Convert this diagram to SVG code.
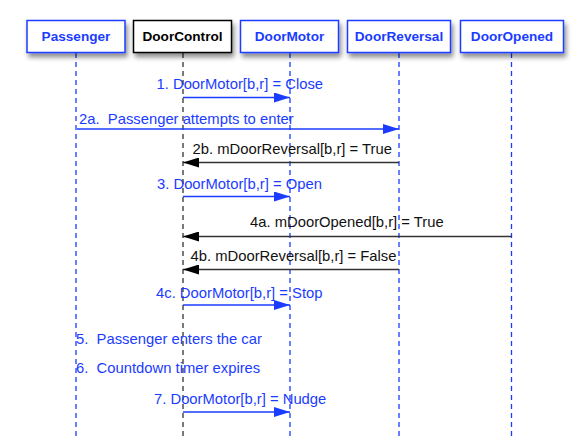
<svg xmlns="http://www.w3.org/2000/svg" width="588" height="448" viewBox="0 0 588 448">
<defs>
<filter id="sh" x="-20%" y="-30%" width="140%" height="180%">
<feDropShadow dx="2" dy="4" stdDeviation="2.5" flood-color="#000" flood-opacity="0.45"/>
</filter>
<marker id="ab" viewBox="0 0 16 10" refX="16" refY="5" markerWidth="16" markerHeight="10" markerUnits="userSpaceOnUse" orient="auto">
<path d="M0,0 L16,5 L0,10 Z" fill="#1a3cff"/>
</marker>
<marker id="ak" viewBox="0 0 16 10" refX="16" refY="5" markerWidth="16" markerHeight="10" markerUnits="userSpaceOnUse" orient="auto">
<path d="M0,0 L16,5 L0,10 Z" fill="#000"/>
</marker>
<style>
.box{fill:#fff;stroke:#1a3cff;stroke-width:1.5;filter:url(#sh)}
.boxk{fill:#fff;stroke:#000;stroke-width:1.5;filter:url(#sh)}
.hd{font-family:"Liberation Sans",Arial,sans-serif;font-weight:bold;font-size:13.6px;text-anchor:middle;fill:#1a3cff}
.hdk{font-family:"Liberation Sans",Arial,sans-serif;font-weight:bold;font-size:13.6px;text-anchor:middle;fill:#000}
.ll{stroke:#1a3cff;stroke-width:1.3;stroke-dasharray:5 4;fill:none}
.llk{stroke:#333;stroke-width:1.3;stroke-dasharray:5 4;fill:none}
.mb{stroke:#1a3cff;stroke-width:1.5;fill:none;marker-end:url(#ab)}
.mk{stroke:#333;stroke-width:1.5;fill:none;marker-end:url(#ak)}
.tb{font-family:"Liberation Sans",Arial,sans-serif;font-size:14.8px;fill:#1a3cff}
.tk{font-family:"Liberation Sans",Arial,sans-serif;font-size:14.8px;fill:#111}
</style>
</defs>
<rect width="588" height="448" fill="#fff"/>
<g id="lifelines">
<line class="ll" x1="76" y1="53" x2="76" y2="436"/>
<line class="llk" x1="183" y1="53" x2="183" y2="436"/>
<line class="ll" x1="290" y1="53" x2="290" y2="436"/>
<line class="ll" x1="399" y1="53" x2="399" y2="436"/>
<line class="ll" x1="511.5" y1="53" x2="511.5" y2="436"/>
</g>
<g id="Passenger"><rect class="box" x="27" y="20.5" width="98" height="32"/><text class="hd" x="76" y="41">Passenger</text></g>
<g id="DoorControl"><rect class="boxk" x="133.5" y="20.5" width="98" height="32"/><text class="hdk" x="182.5" y="41">DoorControl</text></g>
<g id="DoorMotor"><rect class="box" x="240.5" y="20.5" width="98" height="32"/><text class="hd" x="289.5" y="41">DoorMotor</text></g>
<g id="DoorReversal"><rect class="box" x="347.5" y="20.5" width="103" height="32"/><text class="hd" x="399" y="41">DoorReversal</text></g>
<g id="DoorOpened"><rect class="box" x="460.5" y="20.5" width="103" height="32"/><text class="hd" x="512" y="41">DoorOpened</text></g>
<g id="connectors">
<line class="mb" x1="183" y1="97.5" x2="290" y2="97.5"/>
<line class="mb" x1="77" y1="129" x2="399" y2="129"/>
<line class="mk" x1="399" y1="162.5" x2="183" y2="162.5"/>
<line class="mb" x1="183" y1="196.5" x2="290" y2="196.5"/>
<line class="mk" x1="511.5" y1="236.5" x2="183" y2="236.5"/>
<line class="mk" x1="399" y1="269.5" x2="183" y2="269.5"/>
<line class="mb" x1="183" y1="305" x2="290" y2="305"/>
<line class="mb" x1="183" y1="412" x2="290" y2="412"/>
</g>
<g id="labels">
<text class="tb" x="156.5" y="89">1. DoorMotor[b,r] = Close</text>
<text class="tb" x="79" y="124" xml:space="preserve">2a.  Passenger attempts to enter</text>
<text class="tk" x="192.5" y="154">2b. mDoorReversal[b,r] = True</text>
<text class="tb" x="157" y="189">3. DoorMotor[b,r] = Open</text>
<text class="tk" x="250" y="227">4a. mDoorOpened[b,r] = True</text>
<text class="tk" x="190.5" y="261">4b. mDoorReversal[b,r] = False</text>
<text class="tb" x="156" y="297.5">4c. DoorMotor[b,r] = Stop</text>
<text class="tb" x="76" y="344" xml:space="preserve">5.  Passenger enters the car</text>
<text class="tb" x="76" y="372.5" xml:space="preserve">6.  Countdown timer expires</text>
<text class="tb" x="154" y="403.5">7. DoorMotor[b,r] = Nudge</text>
</g>
</svg>
